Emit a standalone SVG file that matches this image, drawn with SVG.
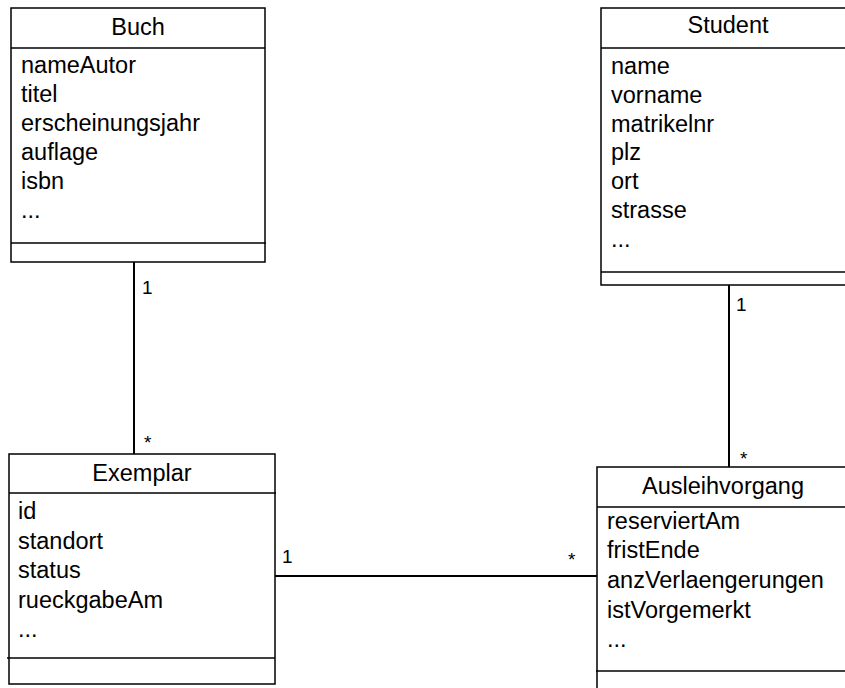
<svg xmlns="http://www.w3.org/2000/svg" width="845" height="688" viewBox="0 0 845 688">
<style>
.box{fill:#fff;stroke:#000;stroke-width:1.5}
.ln{stroke:#000;stroke-width:1.5;fill:none}
.con{stroke:#000;stroke-width:2;fill:none}
text{font-family:"Liberation Sans",Arial,sans-serif;fill:#000}
.t{font-size:23.5px;text-anchor:middle}
.a{font-size:23.5px}
.m{font-size:19px}
</style>
<rect width="845" height="688" fill="#fff"/>
<g id="connectors">
<line class="con" x1="134" y1="262" x2="134" y2="454"/>
<line class="con" x1="729" y1="285" x2="729" y2="467"/>
<line class="con" x1="275" y1="576" x2="597" y2="576"/>
<text class="m" x="142" y="294">1</text>
<text class="m" x="144" y="449">*</text>
<text class="m" x="736" y="311">1</text>
<text class="m" x="740" y="465">*</text>
<text class="m" x="282" y="563">1</text>
<text class="m" x="568" y="566">*</text>
</g>
<g id="Buch">
<rect class="box" x="11" y="8" width="254" height="254"/>
<line class="ln" x1="11" y1="48" x2="265" y2="48"/>
<line class="ln" x1="11" y1="243" x2="266" y2="243"/>
<text class="t" x="138" y="35">Buch</text>
<text class="a" x="21" y="73">nameAutor</text>
<text class="a" x="21" y="102">titel</text>
<text class="a" x="21" y="131">erscheinungsjahr</text>
<text class="a" x="21" y="160">auflage</text>
<text class="a" x="21" y="189">isbn</text>
<text class="a" x="21" y="218">...</text>
</g>
<g id="Student">
<rect class="box" x="601" y="8" width="254" height="277"/>
<line class="ln" x1="601" y1="48" x2="855" y2="48"/>
<line class="ln" x1="601" y1="272" x2="855" y2="272"/>
<text class="t" x="728" y="33">Student</text>
<text class="a" x="611" y="74">name</text>
<text class="a" x="611" y="103">vorname</text>
<text class="a" x="611" y="132">matrikelnr</text>
<text class="a" x="611" y="160">plz</text>
<text class="a" x="611" y="189">ort</text>
<text class="a" x="611" y="218">strasse</text>
<text class="a" x="611" y="247">...</text>
</g>
<g id="Exemplar">
<rect class="box" x="9" y="454" width="266" height="230"/>
<line class="ln" x1="9" y1="493" x2="276" y2="493"/>
<line class="ln" x1="7" y1="658" x2="275" y2="658"/>
<text class="t" x="142" y="481">Exemplar</text>
<text class="a" x="18" y="519">id</text>
<text class="a" x="18" y="549">standort</text>
<text class="a" x="18" y="578">status</text>
<text class="a" x="18" y="608">rueckgabeAm</text>
<text class="a" x="18" y="637">...</text>
</g>
<g id="Ausleihvorgang">
<rect class="box" x="597" y="467" width="254" height="235"/>
<line class="ln" x1="597" y1="507" x2="851" y2="507"/>
<line class="ln" x1="596" y1="671" x2="851" y2="671"/>
<text class="t" x="723" y="494">Ausleihvorgang</text>
<text class="a" x="607" y="529">reserviertAm</text>
<text class="a" x="607" y="558">fristEnde</text>
<text class="a" x="607" y="588">anzVerlaengerungen</text>
<text class="a" x="607" y="618">istVorgemerkt</text>
<text class="a" x="607" y="647">...</text>
</g>
</svg>
